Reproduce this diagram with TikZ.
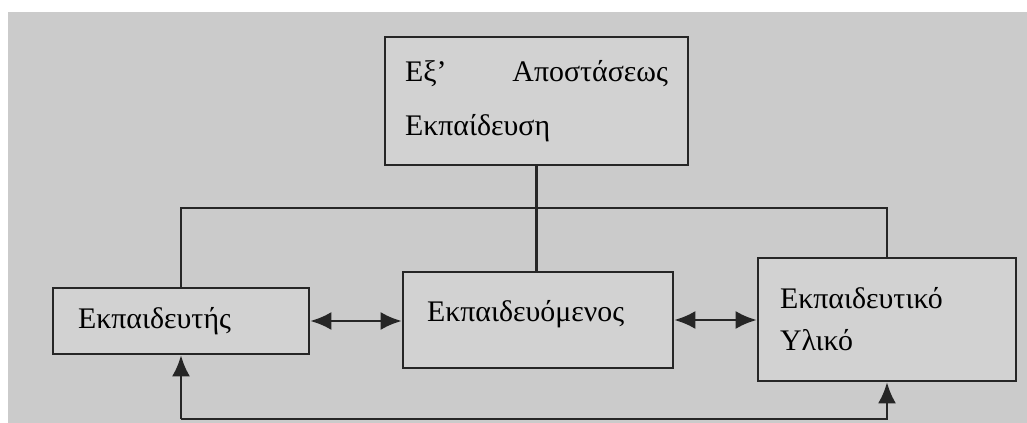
\documentclass[tikz,border=0pt]{standalone}
\usepackage{fontspec}
\setmainfont{Liberation Serif}
\usepackage{tikz}
\usepackage{xcolor}
\usetikzlibrary{arrows.meta}

\definecolor{bggray}{HTML}{CBCBCB}
\definecolor{boxgray}{HTML}{D2D2D2}
\definecolor{linegray}{HTML}{262626}

\begin{document}
\begin{tikzpicture}[
    box/.style={draw=linegray, line width=1.5pt, fill=boxgray, rectangle, align=left,
        font=\fontsize{17}{24}\selectfont},
    link/.style={draw=linegray, line width=1.5pt},
    tip/.style={-{Latex[length=0.42cm,width=0.36cm]}},
    tips/.style={{Latex[length=0.42cm,width=0.36cm]}-{Latex[length=0.42cm,width=0.36cm]}}
]
    \useasboundingbox (0,0) rectangle (20.54,-8.46);
    \fill[bggray] (0.16,-0.24) rectangle (20.54,-8.46);

    \node[box, minimum width=6.06cm, minimum height=2.56cm, text width=5.26cm,
        font=\fontsize{17}{31}\selectfont] (ekp) at (10.73,-2.02)
        {Εξ’\hfill Αποστάσεως\\Εκπαίδευση};
    \node[box, minimum width=5.12cm, minimum height=1.32cm, text width=4.12cm] (teacher) at (3.62,-6.42) {Εκπαιδευτής};
    \node[box, minimum width=5.40cm, minimum height=1.92cm, text width=4.44cm, text depth=0.38cm] (student) at (10.76,-6.40) {Εκπαιδευόμενος};
    \node[box, minimum width=5.16cm, minimum height=2.46cm, text width=4.28cm] (material) at (17.74,-6.39) {Εκπαιδευτικό\\Υλικό};

    \coordinate (bus) at (0,-4.16);
    \coordinate (base) at (0,-8.38);

    \draw[link] (ekp.south) -- (ekp.south |- student.north);
    \draw[link] (teacher.north) -- (teacher.north |- bus) -- (material.north |- bus) -- (material.north);
    \draw[link, tip] (teacher.south |- base) -- (teacher.south);
    \draw[link, tip] (teacher.south |- base) -- (material.south |- base) -- (material.south);

    \draw[link, tips] (teacher.east) -- (teacher.east -| student.west);
    \draw[link, tips] (student.east) -- (student.east -| material.west);

\end{tikzpicture}
\end{document}
